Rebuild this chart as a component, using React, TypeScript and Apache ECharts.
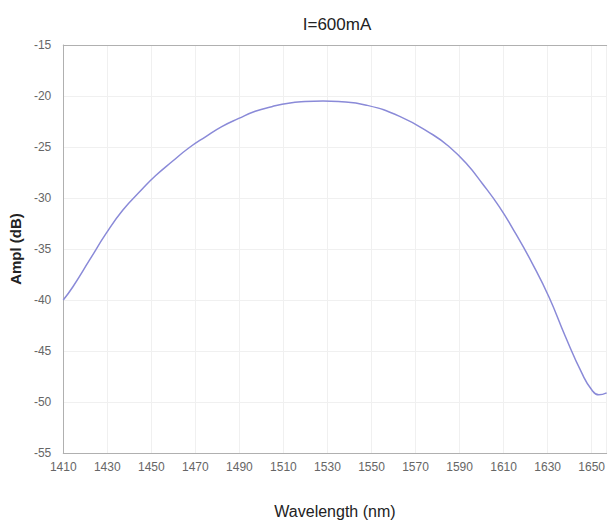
import React, { useEffect, useRef } from "react";
import * as echarts from "echarts";

const X_START = 1410;
const X_END = 1656.8;
const X_INTERVAL = 20;
const Y_MIN = -55;
const Y_MAX = -15;
const Y_INTERVAL = 5;

const wavelengths = [
  1410, 1414.4, 1421.9, 1429.4, 1437, 1446, 1452, 1459.6, 1467, 1474.6, 1482,
  1489.7, 1497.2, 1504.7, 1512.3, 1519.8, 1528, 1535, 1547.7, 1562.8, 1577.9,
  1585.4, 1593, 1600.4, 1608, 1615.5, 1623, 1630.6, 1638.1, 1645.6, 1650,
  1653.2, 1656.8,
];
const amplitudes = [
  -40.0, -38.7, -36.1, -33.5, -31.2, -29.1, -27.8, -26.4, -25.1, -24.0, -23.0,
  -22.2, -21.5, -21.05, -20.7, -20.55, -20.5, -20.55, -20.9, -22.0, -23.8,
  -25.0, -26.6, -28.6, -30.85, -33.5, -36.4, -39.7, -43.6, -47.2, -48.8,
  -49.3, -49.1,
];

const FONT = "'Liberation Sans', Arial, sans-serif";

export default function App() {
  const ref = useRef<HTMLDivElement>(null);
  useEffect(() => {
    if (!ref.current) return;
    const chart = echarts.init(ref.current, null, { renderer: "svg" });
    const data = wavelengths.map((w, i) => [w - X_START, amplitudes[i]]);
    chart.setOption({
      animation: false,
      backgroundColor: "#ffffff",
      title: {
        text: "I=600mA",
        left: 332,
        top: 11,
        textAlign: "center",
        textStyle: { fontFamily: FONT, fontSize: 17, fontWeight: "normal", color: "#222" },
      },
      grid: { left: 62, top: 45, right: 0, bottom: 78 },
      xAxis: [
        {
          type: "value",
          min: 0,
          max: X_END - X_START,
          interval: X_INTERVAL,
          axisLine: { show: true, lineStyle: { color: "#b0b0b0", width: 1 } },
          axisTick: { show: false },
          splitLine: { show: true, lineStyle: { color: "#f0f0f0", width: 1 } },
          axisLabel: {
            color: "#666",
            fontFamily: FONT,
            fontSize: 12,
            margin: 8,
            showMaxLabel: false,
            formatter: (v: number) => String(Math.round(v + X_START)),
          },
          name: "Wavelength (nm)",
          nameLocation: "middle",
          nameGap: 50,
          nameTextStyle: {
            fontFamily: FONT,
            fontSize: 16,
            color: "#222",
          },
        },
        {
          type: "value",
          position: "top",
          min: 0,
          max: X_END - X_START,
          axisLine: { show: true, lineStyle: { color: "#b0b0b0", width: 1 } },
          axisTick: { show: false },
          axisLabel: { show: false },
          splitLine: { show: false },
        },
      ],
      yAxis: {
        type: "value",
        min: Y_MIN,
        max: Y_MAX,
        interval: Y_INTERVAL,
        axisLine: { show: true, lineStyle: { color: "#b0b0b0", width: 1 } },
        axisTick: { show: false },
        splitLine: { show: true, lineStyle: { color: "#f0f0f0", width: 1 } },
        axisLabel: { color: "#666", fontFamily: FONT, fontSize: 12, margin: 12 },
        name: "Ampl (dB)",
        nameLocation: "middle",
        nameGap: 37,
        nameRotate: 90,
        nameTextStyle: {
          fontFamily: FONT,
          fontSize: 15,
          fontWeight: "bold",
          color: "#222",
        },
      },
      series: [
        {
          type: "line",
          data,
          smooth: 0.5,
          showSymbol: false,
          lineStyle: { color: "#8a8ad8", width: 1.5 },
        },
      ],
    });
    return () => chart.dispose();
  }, []);
  return (
    <div
      ref={ref}
      style={{ position: "fixed", left: 0, top: 0, width: 608, height: 531 }}
    />
  );
}
